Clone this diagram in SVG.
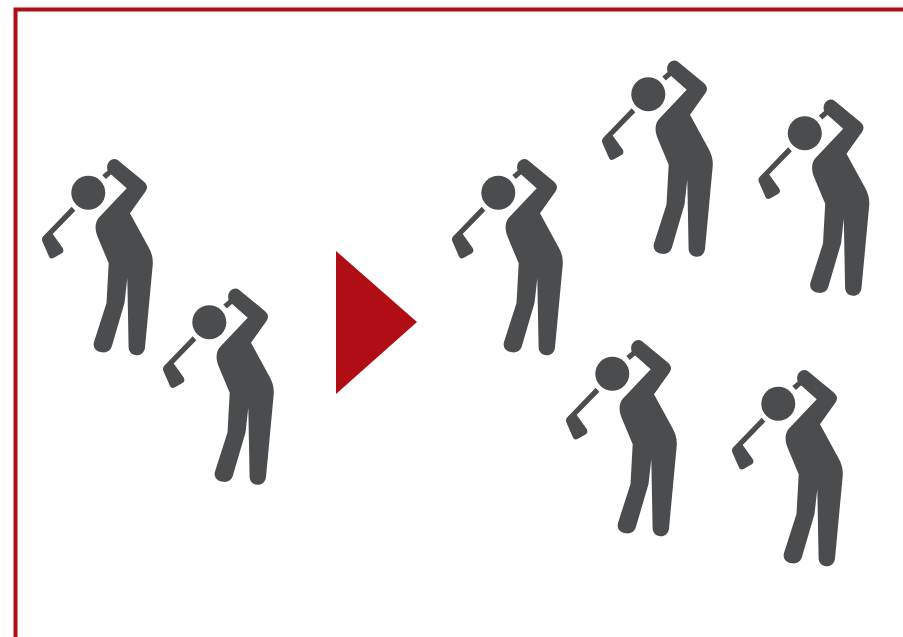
<svg xmlns="http://www.w3.org/2000/svg" width="903" height="637" viewBox="0 0 903 637">
<style>
.frame{fill:none;stroke:#b10d14;stroke-width:4}
.arrow{fill:#b10d14}
.ink{fill:#4b4c4e}
</style>
<defs>
<g id="golfer" class="ink">
<circle cx="88.3" cy="192.7" r="17"/>
<path d="M107.2 166C108 160.5 113.5 157 118 160.2L143.5 181.3C147.5 184.5 148 188 145.5 191.5L130 213.3L148.3 246.7C151.5 252.5 153.3 258 152.7 265L145 347.5C144.4 352.5 141 355.5 136.5 355.3C132 355 128.8 352 128.6 347.5L127.3 278.3L124.5 303L111.7 346.7C110 351 106.5 353 102 352.3C96 351.5 92.5 347.5 94 342L106.5 303L108.7 263.3L97.5 236.5C94.5 229 95 222 99 217.5L126.7 188.3L109.5 173C107.5 171 106.8 169 107.2 166Z"/>
<path d="M102.3 175L108.3 170L111.5 174L105.8 179Z"/>
<path d="M71.7 206.7L75.3 210.7L52.7 234L62.7 248C64 250.5 63.5 252.2 61.5 253.4L53.5 258C51.5 259 49.8 258.5 49 256.5L42.4 241.5C41.6 239.5 42 237.5 43.5 236Z"/>
</g>
</defs>
<rect width="903" height="637" fill="#fff"/>
<path class="frame" d="M903 9.5H15.5V637"/>
<polygon class="arrow" points="336,251 417,322 336,394"/>
<g id="golfer-1"><use href="#golfer"/></g>
<g id="golfer-2"><use href="#golfer" x="121" y="129.5"/></g>
<g id="golfer-3"><use href="#golfer" x="410" y="0"/></g>
<g id="golfer-4"><use href="#golfer" x="560" y="-98.5"/></g>
<g id="golfer-5"><use href="#golfer" x="716.5" y="-59.5"/></g>
<g id="golfer-6"><use href="#golfer" x="524" y="181"/></g>
<g id="golfer-7"><use href="#golfer" x="690" y="211"/></g>
</svg>
